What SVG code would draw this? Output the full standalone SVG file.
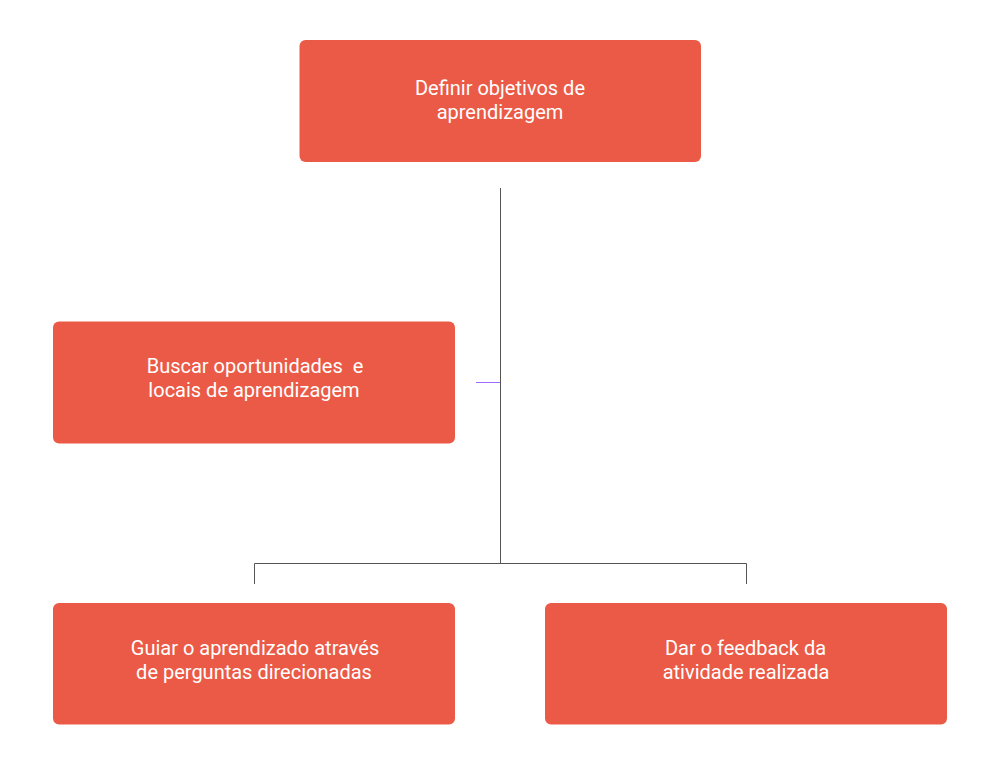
<svg xmlns="http://www.w3.org/2000/svg" width="1000" height="771" viewBox="0 0 1000 771">
<style>
.box{fill:#EB5A46;}
.t{fill:#FFFFFF;font-family:Roboto,"Liberation Sans",sans-serif;font-size:20px;text-anchor:middle;}
.c{stroke:#555555;stroke-width:1;fill:none;}
</style>
<rect width="1000" height="771" fill="#FFFFFF"/>
<g id="connectors">
<path class="c" d="M500.5 188V563.5"/>
<path class="c" d="M254.5 584V563.5H746.5V584"/>
<path d="M476 382.5H500" stroke="#9D6BFF" stroke-width="1" fill="none"/>
</g>
<g id="n1">
<rect class="box" x="299.5" y="40" width="401.5" height="122" rx="6"/>
<text class="t" x="500" y="95">Definir objetivos de</text>
<text class="t" x="500" y="119">aprendizagem</text>
</g>
<g id="n2">
<rect class="box" x="53" y="321.5" width="402" height="122" rx="6"/>
<text class="t" x="255" y="373" xml:space="preserve">Buscar oportunidades  e</text>
<text class="t" x="254" y="397">locais de aprendizagem</text>
</g>
<g id="n3">
<rect class="box" x="53" y="603" width="402" height="121.5" rx="6"/>
<text class="t" x="255" y="655">Guiar o aprendizado através</text>
<text class="t" x="254" y="679">de perguntas direcionadas</text>
</g>
<g id="n4">
<rect class="box" x="545" y="603" width="402" height="121.5" rx="6"/>
<text class="t" x="745.5" y="655">Dar o feedback da</text>
<text class="t" x="746" y="679">atividade realizada</text>
</g>
</svg>
